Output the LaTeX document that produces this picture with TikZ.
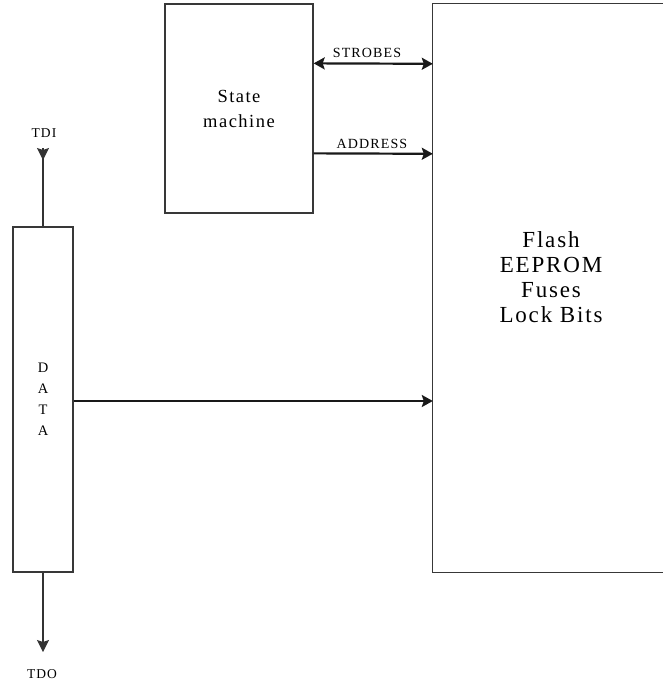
\documentclass[tikz,border=0pt]{standalone}
\usepackage{fontspec}
\setmainfont{Liberation Serif}[LetterSpace=8]
\usetikzlibrary{arrows.meta}
\begin{document}
\begin{tikzpicture}[x=1pt,y=-1pt,
  box/.style={draw=black!78, line width=1.3pt, inner sep=0pt},
  boxline/.style={draw=black!78, line width=1.3pt},
  conn/.style={draw=black!90, line width=2.2pt},
  thinline/.style={draw=black!80, line width=1.2pt},
  hd/.tip={Stealth[length=11pt,width=12pt,inset=2pt]},
  tiphead/.style={-hd},
  lbl/.style={font=\fontsize{14}{16}\selectfont, inner sep=0pt},
  smlbl/.style={font=\fontsize{13.5}{15}\selectfont, inner sep=0pt}]
\useasboundingbox (0,0) rectangle (662,680);

% boxes
\node[box, minimum width=148pt, minimum height=209pt, align=center,
      font=\fontsize{18.5}{25}\selectfont] (sm) at (239,108.5) {State\\machine};
\node[inner sep=0pt, minimum width=240pt, minimum height=568pt] (flash) at (553,288) {};
\draw[boxline] (flash.north east) -- (flash.north west) -- (flash.south west) -- (flash.south east);
\node[align=center, inner sep=0pt, font=\fontsize{23}{25}\selectfont] (flashtxt) at (551,277)
  {Flash\\EEPROM\\Fuses\\Lock Bits};
\node[box, minimum width=60pt, minimum height=345pt, align=center,
      font=\fontsize{14.5}{21}\selectfont] (data) at (43,399.5) {D\\A\\T\\A};

% TDI / TDO
\coordinate (tdi) at (43,148);
\coordinate (tdihead) at (43,160);
\coordinate (tdo) at (43,652);
\draw[thinline] (tdi) -- (data.north);
\draw[thinline, -{Stealth[length=12pt,width=12pt,inset=2pt]}] (tdi) -- (tdihead);
\draw[thinline, -{Stealth[length=12pt,width=12pt,inset=2pt]}] (data.south) -- (tdo);
\node[smlbl, anchor=base] (tdilbl) at (44,137) {TDI};
\node[smlbl, anchor=base] (tdolbl) at (42,678) {TDO};

% connectors
\draw[conn, hd-hd]
  ([yshift=-60pt]sm.north east) -- ([yshift=-60pt]flash.north west);
\draw[conn, tiphead] ([yshift=-150pt]sm.north east) -- ([yshift=-150pt]flash.north west);
\coordinate (dataout) at ([yshift=-1.5pt]data.east);
\draw[conn, tiphead] (dataout) -- (dataout -| flash.west);

\node[lbl, anchor=base] (strobes) at (367,57) {STROBES};
\node[lbl, anchor=base] (address) at (372,148) {ADDRESS};
\end{tikzpicture}
\end{document}
